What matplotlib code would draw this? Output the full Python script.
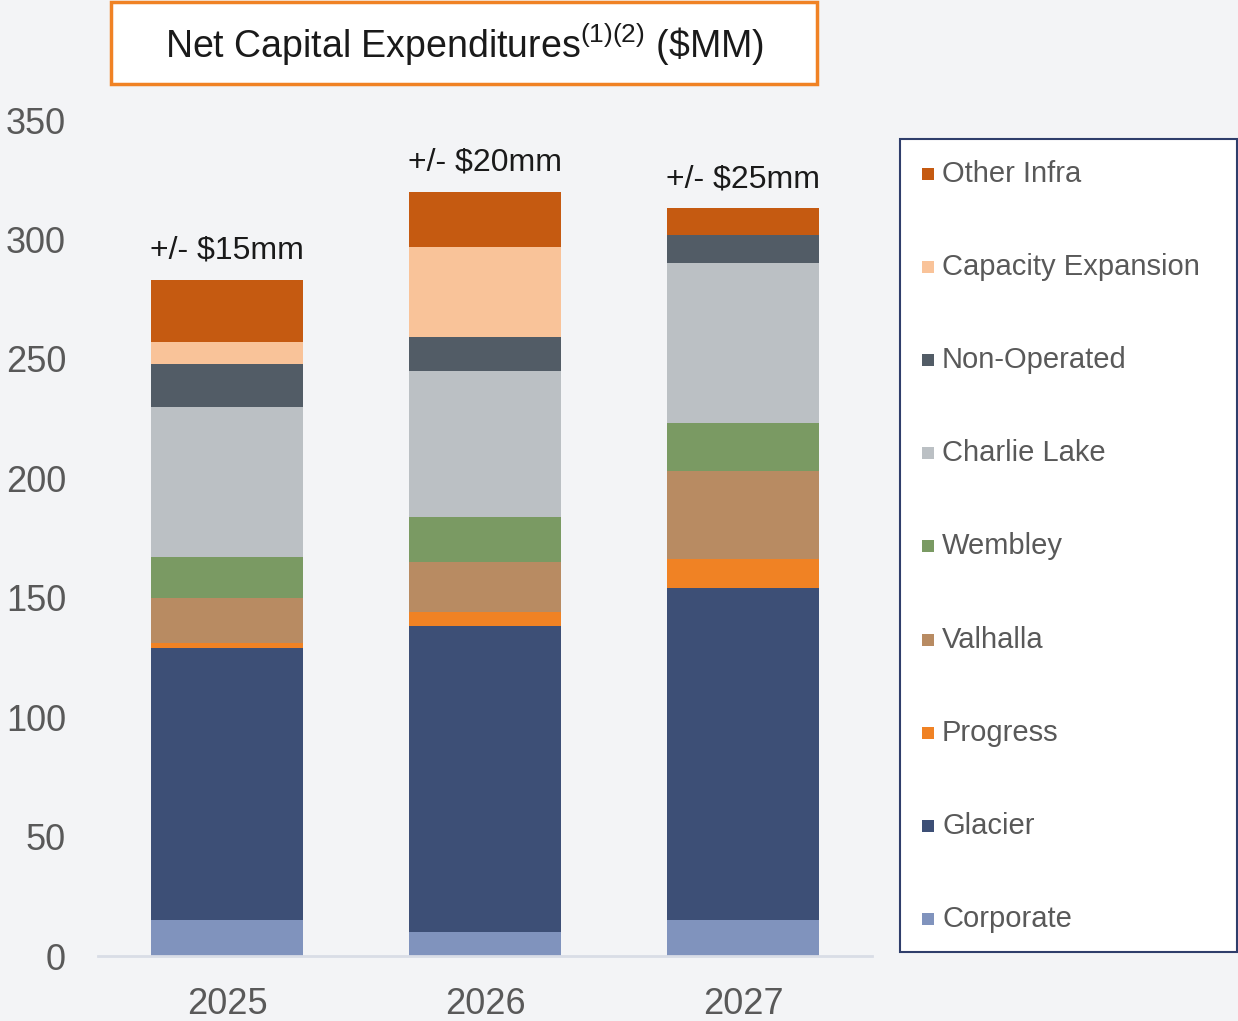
import numpy as np
import matplotlib.pyplot as plt
from matplotlib.patches import Rectangle

plt.rcParams['font.family'] = ['Liberation Sans', 'DejaVu Sans']
plt.rcParams['mathtext.fontset'] = 'custom'
plt.rcParams['mathtext.rm'] = 'Liberation Sans'

years = ['2025', '2026', '2027']
series = ['Corporate', 'Glacier', 'Progress', 'Valhalla', 'Wembley',
          'Charlie Lake', 'Non-Operated', 'Capacity Expansion', 'Other Infra']
corporate = [15, 10, 15]
glacier = [114, 128, 139]
progress = [2, 6, 12]
valhalla = [19, 21, 37]
wembley = [17, 19, 20]
charlie_lake = [63, 61, 67]
non_operated = [18, 14, 12]
capacity_expansion = [9, 38, 0]
other_infra = [26, 23, 11]
range_labels = ['+/- $15mm', '+/- $20mm', '+/- $25mm']

values = [corporate, glacier, progress, valhalla, wembley, charlie_lake,
          non_operated, capacity_expansion, other_infra]
colors = ['#8093BD', '#3D4F76', '#F08224', '#B88B62', '#7A9A63',
          '#BBC0C4', '#525C66', '#F9C399', '#C55A11']

bg = '#F3F4F6'
W, H = 1238, 1021
fig = plt.figure(figsize=(W / 100, H / 100), dpi=100, facecolor=bg)
ax = fig.add_axes([98 / W, 1 - 956 / H, 774 / W, 836 / H], facecolor=bg)

x = np.arange(len(years))
bottom = np.zeros(len(years))
for vals, c in zip(values, colors):
    ax.bar(x, vals, width=0.59, bottom=bottom, color=c, linewidth=0)
    bottom += np.array(vals)

for xi, tot, lab in zip(x, bottom, range_labels):
    ax.text(xi, tot + 6, lab, ha='center', va='bottom', fontsize=23,
            color='#1a1a1a')

ax.set_xlim(-0.5, 2.5)
ax.set_ylim(0, 350)
ax.set_yticks(range(0, 351, 50))
ax.set_xticks(x)
ax.set_xticklabels(years)
ax.tick_params(axis='y', length=0, pad=23, labelsize=26, labelcolor='#595959')
ax.tick_params(axis='x', length=0, pad=22, labelsize=26, labelcolor='#595959')
for s in ['top', 'right', 'left']:
    ax.spines[s].set_visible(False)
ax.spines['bottom'].set_color('#D9DDE6')
ax.spines['bottom'].set_linewidth(2)

# title box
fig.patches.append(Rectangle((111 / W, 1 - 84 / H), 706 / W, 82 / H,
                             transform=fig.transFigure, facecolor='white',
                             edgecolor='#F08224', linewidth=2.5))
fig.text(464 / W, 1 - 45 / H, r'Net Capital Expenditures$^{\mathrm{(1)(2)}}$ (\$MM)',
         ha='center', va='center', fontsize=27, color='#1a1a1a')

# legend box
fig.patches.append(Rectangle((900 / W, 1 - 952 / H), 337 / W, 813 / H,
                             transform=fig.transFigure, facecolor='white',
                             edgecolor='#2F3E6B', linewidth=1.5))
for i, (name, c) in enumerate(zip(series[::-1], colors[::-1])):
    yc = 1 - (174 + i * 93.1) / H
    fig.patches.append(Rectangle((922 / W, yc - 6 / H), 12 / W, 12 / H,
                                 transform=fig.transFigure, facecolor=c,
                                 linewidth=0))
    fig.text(942 / W, yc, name, ha='left', va='center', fontsize=21,
             color='#595959')

fig.savefig('out.png', dpi=100, facecolor=bg)
